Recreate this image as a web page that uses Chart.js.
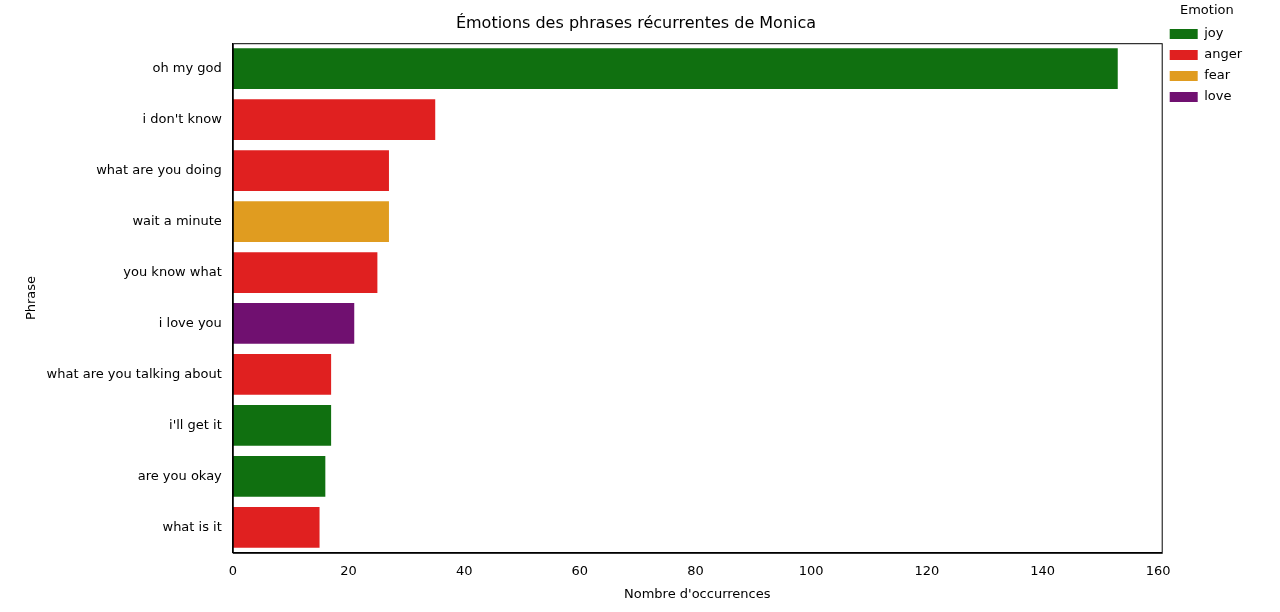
<!DOCTYPE html>
<html><head><meta charset="utf-8">
<script src="https://cdn.jsdelivr.net/npm/chart.js@4"></script>
<style>html,body{margin:0;background:#fff}#w{width:1280px;height:612px}</style>
</head><body><div id="w"><canvas id="c"></canvas></div>
<script>
const phrases=["oh my god","i don't know","what are you doing","wait a minute","you know what","i love you","what are you talking about","i'll get it","are you okay","what is it"];
const counts=[153,35,27,27,25,21,17,17,16,15];
const emotions=["joy","anger","anger","fear","anger","love","anger","joy","joy","anger"];
const emotionOrder=["joy","anger","fear","love"];
const colors={joy:"#107010",anger:"#e02020",fear:"#e09c20",love:"#701070"};
Chart.defaults.font.family="DejaVu Sans";
Chart.defaults.color="#000";
const datasets=emotionOrder.map(e=>({label:e,backgroundColor:colors[e],
 data:counts.map((v,i)=>emotions[i]===e?v:null),barPercentage:0.8,categoryPercentage:1,grouped:false}));
const frame={id:'frame',afterDatasetsDraw(ch){const a=ch.chartArea,x=ch.ctx;x.save();x.strokeStyle='#000';x.lineWidth=1;x.strokeRect(a.left+0.5,a.top+0.5,a.right-a.left,a.bottom-a.top);x.restore();}};
new Chart(document.getElementById('c'),{type:'bar',data:{labels:phrases,datasets},plugins:[frame],
options:{indexAxis:'y',responsive:true,maintainAspectRatio:false,animation:false,
layout:{padding:{left:20,right:28,top:4,bottom:6}},
plugins:{title:{display:true,text:'Émotions des phrases récurrentes de Monica',font:{size:16,weight:'normal'},padding:{top:10,bottom:10}},
legend:{position:'right',align:'start',title:{display:true,text:'Émotion',font:{size:13}},
labels:{boxWidth:28,boxHeight:10,font:{size:13},padding:8}},tooltip:{enabled:false}},
scales:{x:{min:0,max:160.6,grid:{display:false},border:{color:'#000'},
afterBuildTicks(s){s.ticks=[0,20,40,60,80,100,120,140,160].map(v=>({value:v}));},
ticks:{font:{size:13},maxRotation:0},title:{display:true,text:"Nombre d'occurrences",font:{size:13}}},
y:{grid:{display:false},border:{color:'#000'},ticks:{font:{size:13}},title:{display:true,text:'Phrase',font:{size:13}}}}}});
</script></body></html>
